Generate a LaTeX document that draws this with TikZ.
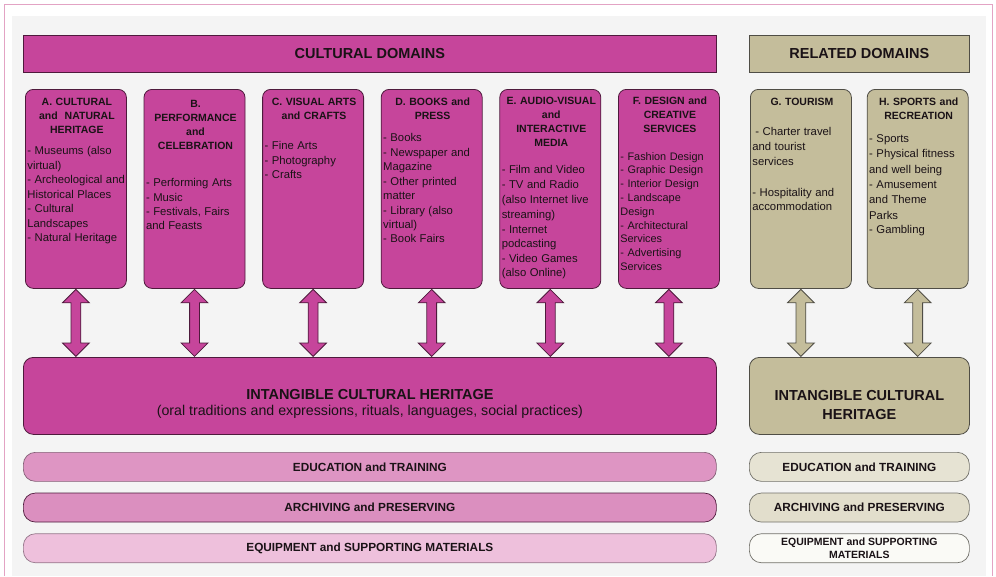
\documentclass[tikz,border=0pt]{standalone}
\usepackage{fontspec}
\setmainfont{Liberation Sans}
\usetikzlibrary{positioning, shapes.arrows, calc}

\definecolor{cultfill}{HTML}{C6459B}
\definecolor{cultline}{HTML}{4E1A3C}
\definecolor{relfill}{HTML}{C4BD9B}
\definecolor{relline}{HTML}{4F4D45}
\definecolor{inkdark}{HTML}{1A1216}
\definecolor{framepink}{HTML}{E3A3C4}
\definecolor{backgrey}{HTML}{F4F4F4}
\definecolor{cultedu}{HTML}{DE95C3}
\definecolor{cultarch}{HTML}{DB8FBF}
\definecolor{cultequip}{HTML}{EEC0DC}
\definecolor{reledu}{HTML}{E6E3D3}
\definecolor{relarch}{HTML}{E2DECC}
\definecolor{relequip}{HTML}{FAFAF6}

\tikzset{
  cult/.style={draw=cultline, fill=cultfill},
  rel/.style={draw=relline, fill=relfill},
  headbar/.style={line width=0.8pt, minimum height=37pt, text=inkdark,
    font=\fontsize{14.5}{17}\selectfont\bfseries},
  domainbox/.style={line width=0.8pt, rounded corners=8pt, minimum width=101pt, minimum height=199pt},
  domtext/.style={anchor=north, text width=99pt, xshift=1pt, align=left, inner sep=0pt, text=inkdark,
    font=\fontsize{10.5}{14}\selectfont},
  twoway/.style={double arrow, line width=0.8pt, rotate=90, minimum height=67pt, minimum width=26pt,
    inner sep=0pt, inner ysep=4.5pt, double arrow head extend=8.5pt},
  heritage/.style={line width=0.8pt, rounded corners=10pt, minimum height=77pt},
  band/.style={draw=#1, line width=0.7pt, rounded corners=12pt, minimum height=29pt, text=inkdark,
    font=\fontsize{11.8}{13}\selectfont\bfseries}
}

\begin{document}
\begin{tikzpicture}[x=1pt, y=-1pt, node distance=16.8pt]
\useasboundingbox (0,0) rectangle (996,576);
\fill[white] (0,0) rectangle (996,576);
\fill[backgrey] (12,16) rectangle (986,576);
\draw[framepink, line width=1pt] (4.5,576) -- (4.5,4) -- (992.5,4) -- (992.5,576);

% domain headers
\node[headbar, cult, minimum width=693pt, anchor=north west] (cultural) at (23,35) {CULTURAL DOMAINS};
\node[headbar, rel, minimum width=220pt, anchor=north west] (related) at (749,35) {RELATED DOMAINS};

% cultural domains
\node[domainbox, cult, anchor=north west] (A) at (25,89) {};
\node[domainbox, cult, right=of A] (B) {};
\node[domainbox, cult, right=of B] (C) {};
\node[domainbox, cult, right=of C] (D) {};
\node[domainbox, cult, right=of D] (E) {};
\node[domainbox, cult, right=of E] (F) {};

% related domains
\node[domainbox, rel, anchor=north west] (G) at (750,89) {};
\node[domainbox, rel, right=15pt of G] (H) {};

\node[domtext] (Atext) at ([yshift=-9pt]A.north) {{\centering\bfseries A. CULTURAL\\ and\ \ NATURAL\\ HERITAGE\par}
  \vspace{6.5pt}\fontsize{11.3}{14.5}\selectfont
  - Museums (also\\ virtual)\\ - Archeological and\\ Historical Places\\ - Cultural\\ Landscapes\\ - Natural Heritage};
\node[domtext] (Btext) at ([yshift=-11pt]B.north) {{\centering\bfseries B.\\ PERFORMANCE\\ and\\ CELEBRATION\par}
  \vspace{23pt}\fontsize{11.3}{14.5}\selectfont
  - Performing Arts\\ - Music\\ - Festivals, Fairs\\ and Feasts};
\node[domtext] (Ctext) at ([yshift=-9pt]C.north) {{\centering\bfseries C. VISUAL ARTS\\ and CRAFTS\par}
  \vspace{15.5pt}\fontsize{11.3}{14.5}\selectfont
  - Fine Arts\\ - Photography\\ - Crafts};
\node[domtext] (Dtext) at ([yshift=-9pt]D.north) {{\centering\bfseries D. BOOKS and\\ PRESS\par}
  \vspace{7.5pt}\fontsize{11.3}{14.5}\selectfont
  - Books\\ - Newspaper and\\ Magazine\\ - Other printed\\ matter\\ - Library (also\\ virtual)\\ - Book Fairs};
\node[domtext] (Etext) at ([yshift=-8pt]E.north) {{\centering\bfseries E. AUDIO-VISUAL\\ and\\ INTERACTIVE\\ MEDIA\par}
  \vspace{12.5pt}\fontsize{11.3}{14.8}\selectfont
  - Film and Video\\ - TV and Radio\\ (also Internet live\\ streaming)\\ - Internet\\ podcasting\\ - Video Games\\ (also Online)};
\node[domtext] (Ftext) at ([yshift=-8pt]F.north) {{\centering\bfseries F. DESIGN and\\ CREATIVE\\ SERVICES\par}
  \vspace{13.5pt}\fontsize{10.9}{13.8}\selectfont
  - Fashion Design\\ - Graphic Design\\ - Interior Design\\ - Landscape\\ Design\\ - Architectural\\ Services\\ - Advertising\\ Services};
\node[domtext] (Gtext) at ([yshift=-9pt]G.north) {{\centering\bfseries G. TOURISM\par}
  \vspace{14.5pt}\fontsize{11.3}{15.3}\selectfont
  \hspace{3pt}- Charter travel\\ and tourist\\ services\\[15.3pt] - Hospitality and\\ accommodation};
\node[domtext] (Htext) at ([yshift=-9pt]H.north) {{\centering\bfseries H. SPORTS and\\ RECREATION\par}
  \vspace{7.5pt}\fontsize{11.3}{15.3}\selectfont
  - Sports\\ - Physical fitness\\ and well being\\ - Amusement\\ and Theme\\ Parks\\ - Gambling};

% intangible heritage
\node[heritage, cult, minimum width=693pt, anchor=north west] (ich) at (23,357) {};
\node[heritage, rel, minimum width=220pt, anchor=north west] (ichrel) at (749,357) {};
\node[align=center, text=inkdark, font=\fontsize{14.2}{16.5}\selectfont] (ichtext) at ([yshift=-8pt]ich.center)
  {{\fontsize{14.5}{16.5}\selectfont\bfseries INTANGIBLE CULTURAL HERITAGE}\\
   (oral traditions and expressions, rituals, languages, social practices)};
\node[align=center, text=inkdark, font=\fontsize{14.5}{18.5}\selectfont\bfseries] (ichreltext) at ([yshift=-9pt]ichrel.center)
  {INTANGIBLE CULTURAL\\ HERITAGE};

% links
\foreach \n in {A,B,C,D,E,F}
  \node[twoway, cult] at ($(\n.south)!0.5!(\n.south |- ich.north)$) {};
\foreach \n in {G,H}
  \node[twoway, rel] at ($(\n.south)!0.5!(\n.south |- ichrel.north)$) {};

% supporting activities
\node[band=cultline!70, fill=cultedu, minimum width=693pt, anchor=north west] (edu) at (23,452) {EDUCATION and TRAINING};
\node[band=cultline, fill=cultarch, minimum width=693pt, below=11pt of edu] (arch) {ARCHIVING and PRESERVING};
\node[band=cultline!60, fill=cultequip, minimum width=693pt, below=11pt of arch] (equip) {EQUIPMENT and SUPPORTING MATERIALS};
\node[band=relline!80, fill=reledu, minimum width=220pt, anchor=north west] (reledu) at (749,452) {EDUCATION and TRAINING};
\node[band=relline!80, fill=relarch, minimum width=220pt, below=11pt of reledu] (relarch) {ARCHIVING and PRESERVING};
\node[band=relline!80, fill=relequip, minimum width=220pt, below=11pt of relarch, align=center,
  font=\fontsize{10.5}{12.5}\selectfont\bfseries] (relequip) {EQUIPMENT and SUPPORTING\\ MATERIALS};
\end{tikzpicture}
\end{document}
